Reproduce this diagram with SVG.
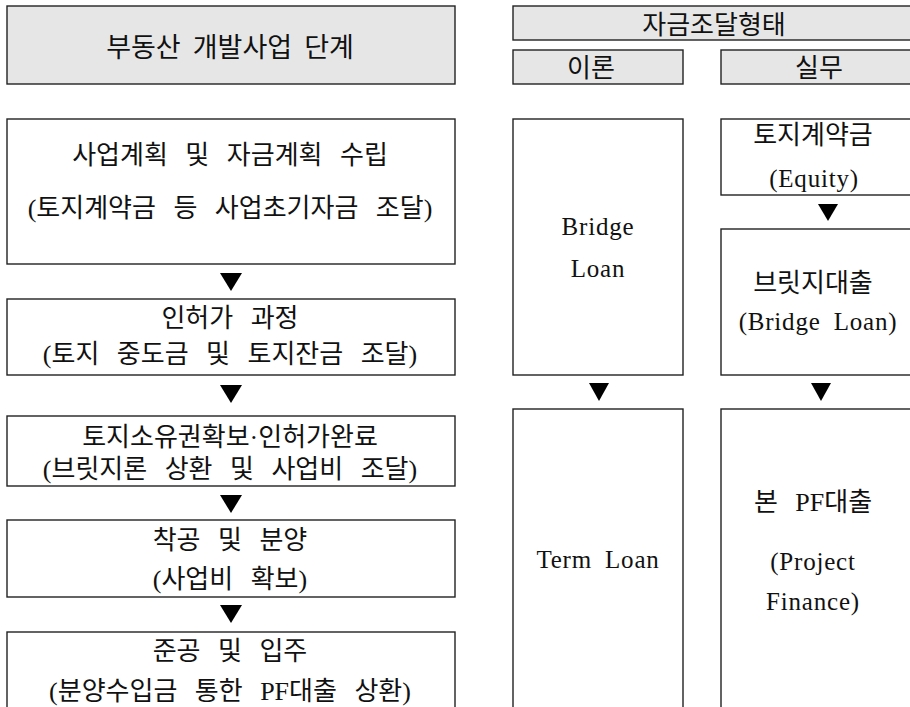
<svg xmlns="http://www.w3.org/2000/svg" width="910" height="707" viewBox="0 0 910 707">
<style>
.box{fill:#ffffff;stroke:#222;stroke-width:1.4}
.hdr{fill:#e6e6e6;stroke:#222;stroke-width:1.4}
.ht{font-family:"Noto Sans CJK KR","Noto Sans",sans-serif;font-size:27px;fill:#111;text-anchor:middle;word-spacing:6px}
.hs{font-family:"Noto Sans CJK KR","Noto Sans",sans-serif;font-size:26px;fill:#111;text-anchor:middle}
.t{font-family:"Liberation Serif","Noto Sans CJK KR",serif;font-size:26px;fill:#111;text-anchor:middle;word-spacing:11px}
.lt{font-family:"Liberation Serif","Noto Sans CJK KR",serif;font-size:25px;fill:#111;text-anchor:middle;letter-spacing:0.8px;word-spacing:6px}
.arr{fill:#000}
</style>
<rect width="910" height="707" fill="#ffffff"/>
<g id="stage-header"><rect class="hdr" x="7" y="6" width="448" height="78"/><text class="ht" x="230" y="57">부동산 개발사업 단계</text></g>
<g id="stage1"><rect class="box" x="7" y="119" width="448" height="145"/><text class="t" x="230" y="164">사업계획 및 자금계획 수립</text><text class="t" x="230" y="217">(토지계약금 등 사업초기자금 조달)</text></g>
<g id="stage2"><rect class="box" x="7" y="299" width="448" height="76"/><text class="t" x="230" y="327">인허가 과정</text><text class="t" x="230" y="363">(토지 중도금 및 토지잔금 조달)</text></g>
<g id="stage3"><rect class="box" x="7" y="416" width="448" height="70"/><text class="t" x="230" y="446">토지소유권확보·인허가완료</text><text class="t" x="230" y="478">(브릿지론 상환 및 사업비 조달)</text></g>
<g id="stage4"><rect class="box" x="7" y="520" width="448" height="77"/><text class="t" x="230" y="549">착공 및 분양</text><text class="t" x="230" y="588">(사업비 확보)</text></g>
<g id="stage5"><rect class="box" x="7" y="632" width="448" height="90"/><text class="t" x="230" y="660">준공 및 입주</text><text class="t" x="230" y="700">(분양수입금 통한 PF대출 상환)</text></g>
<g id="fund-header"><rect class="hdr" x="513" y="6" width="407" height="34"/><text class="hs" x="714" y="34">자금조달형태</text></g>
<g id="theory-header"><rect class="hdr" x="513" y="50" width="170" height="34"/><text class="hs" x="591" y="77">이론</text></g>
<g id="practice-header"><rect class="hdr" x="721" y="50" width="199" height="34"/><text class="hs" x="819" y="77">실무</text></g>
<g id="bridge-loan"><rect class="box" x="513" y="119" width="170" height="256"/><text class="lt" x="598" y="235">Bridge</text><text class="lt" x="598" y="277">Loan</text></g>
<g id="equity"><rect class="box" x="721" y="119" width="199" height="76"/><text class="t" x="813" y="144">토지계약금</text><text class="lt" x="814" y="187">(Equity)</text></g>
<g id="bridge-practice"><rect class="box" x="721" y="229" width="199" height="146"/><text class="t" x="813" y="292">브릿지대출</text><text class="lt" x="818" y="330">(Bridge Loan)</text></g>
<g id="term-loan"><rect class="box" x="513" y="409" width="170" height="320"/><text class="lt" x="598" y="568">Term Loan</text></g>
<g id="pf-loan"><rect class="box" x="721" y="409" width="199" height="320"/><text class="t" x="813" y="511">본 PF대출</text><text class="lt" x="813" y="570">(Project</text><text class="lt" x="813" y="610">Finance)</text></g>
<g id="connectors">
<polygon class="arr" points="220,273 242,273 231,291"/>
<polygon class="arr" points="220,385 242,385 231,403"/>
<polygon class="arr" points="220,495 242,495 231,513"/>
<polygon class="arr" points="220,605 242,605 231,623"/>
<polygon class="arr" points="818,204 838,204 828,221"/>
<polygon class="arr" points="589,383 609,383 599,401"/>
<polygon class="arr" points="811,383 831,383 821,401"/>
</g>
</svg>
